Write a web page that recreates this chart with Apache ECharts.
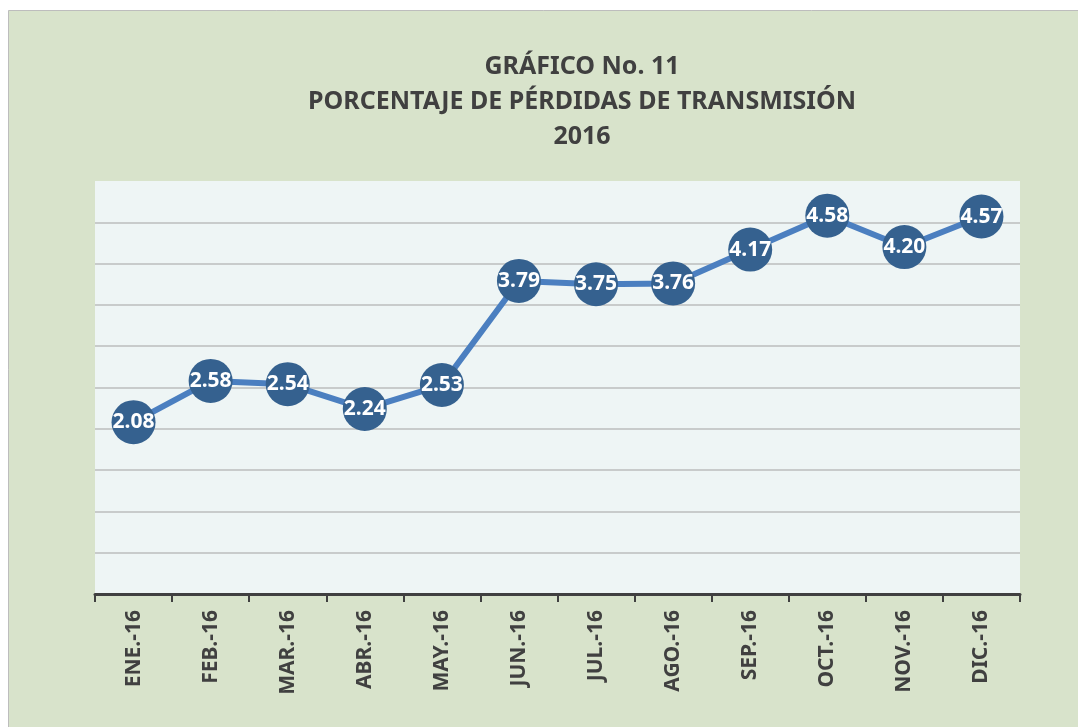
<!DOCTYPE html>
<html>
    <head>
        <meta charset="utf-8">
        <script src="https://cdn.jsdelivr.net/npm/echarts@6/dist/echarts.min.js"></script>
        <title>GRÁFICO No. 11</title>
        <style>
            html, body { margin: 0; padding: 0; background: #ffffff; }
            #main {
                position: absolute;
                top: 0;
                left: 0;
                width: 1078px;
                height: 727px;
            }
        </style>
    </head>
    <body>
        <div id="main"></div>
        <script type="text/javascript">
            // datos del gráfico
            var meses = ['ENE.-16', 'FEB.-16', 'MAR.-16', 'ABR.-16', 'MAY.-16', 'JUN.-16',
                         'JUL.-16', 'AGO.-16', 'SEP.-16', 'OCT.-16', 'NOV.-16', 'DIC.-16'];
            var perdidas = [2.08, 2.58, 2.54, 2.24, 2.53, 3.79, 3.75, 3.76, 4.17, 4.58, 4.20, 4.57];
            var titulo = 'GRÁFICO No. 11\nPORCENTAJE DE PÉRDIDAS DE TRANSMISIÓN\n2016';

            var myChart = echarts.init(document.getElementById('main'));
            var font = '"Noto Sans", "DejaVu Sans", sans-serif';

            var option = {
                backgroundColor: 'transparent',
                animation: false,
                graphic: [{
                    type: 'rect',
                    z: -10,
                    shape: { x: 8.5, y: 10.5, width: 1075, height: 720 },
                    style: { fill: '#d8e3cb', stroke: '#bdbdbd', lineWidth: 1 }
                }],
                title: {
                    text: titulo,
                    left: 577,
                    top: 44,
                    textAlign: 'center',
                    textStyle: {
                        fontFamily: font,
                        fontWeight: 'bold',
                        fontSize: 25,
                        lineHeight: 35,
                        color: '#404040'
                    }
                },
                grid: {
                    left: 95,
                    right: 58,
                    top: 181,
                    bottom: 133,
                    show: true,
                    backgroundColor: '#eef5f5',
                    borderWidth: 0
                },
                xAxis: {
                    type: 'category',
                    data: meses,
                    boundaryGap: true,
                    axisLine: { lineStyle: { color: '#404040', width: 3 } },
                    axisTick: { show: true, length: 8, lineStyle: { color: '#404040', width: 2 } },
                    axisLabel: {
                        rotate: 90,
                        margin: 16,
                        color: '#404040',
                        fontFamily: font,
                        fontWeight: 'bold',
                        fontSize: 21
                    }
                },
                yAxis: {
                    type: 'value',
                    min: 0,
                    max: 5,
                    interval: 0.5,
                    axisLine: { show: false },
                    axisTick: { show: false },
                    axisLabel: { show: false },
                    splitLine: {
                        show: true,
                        showMinLine: false,
                        showMaxLine: false,
                        lineStyle: { color: '#c8cbcb', width: 2 }
                    }
                },
                series: [{
                    type: 'line',
                    data: perdidas,
                    symbol: 'circle',
                    symbolSize: 44,
                    lineStyle: { color: '#4b7fc0', width: 6 },
                    itemStyle: { color: '#35618f', borderWidth: 0 },
                    label: {
                        show: true,
                        position: 'inside',
                        formatter: function (p) { return p.value.toFixed(2); },
                        color: '#ffffff',
                        fontFamily: font,
                        fontWeight: 'bold',
                        fontSize: 21
                    }
                }]
            };

            myChart.setOption(option);
        </script>
    </body>
</html>
